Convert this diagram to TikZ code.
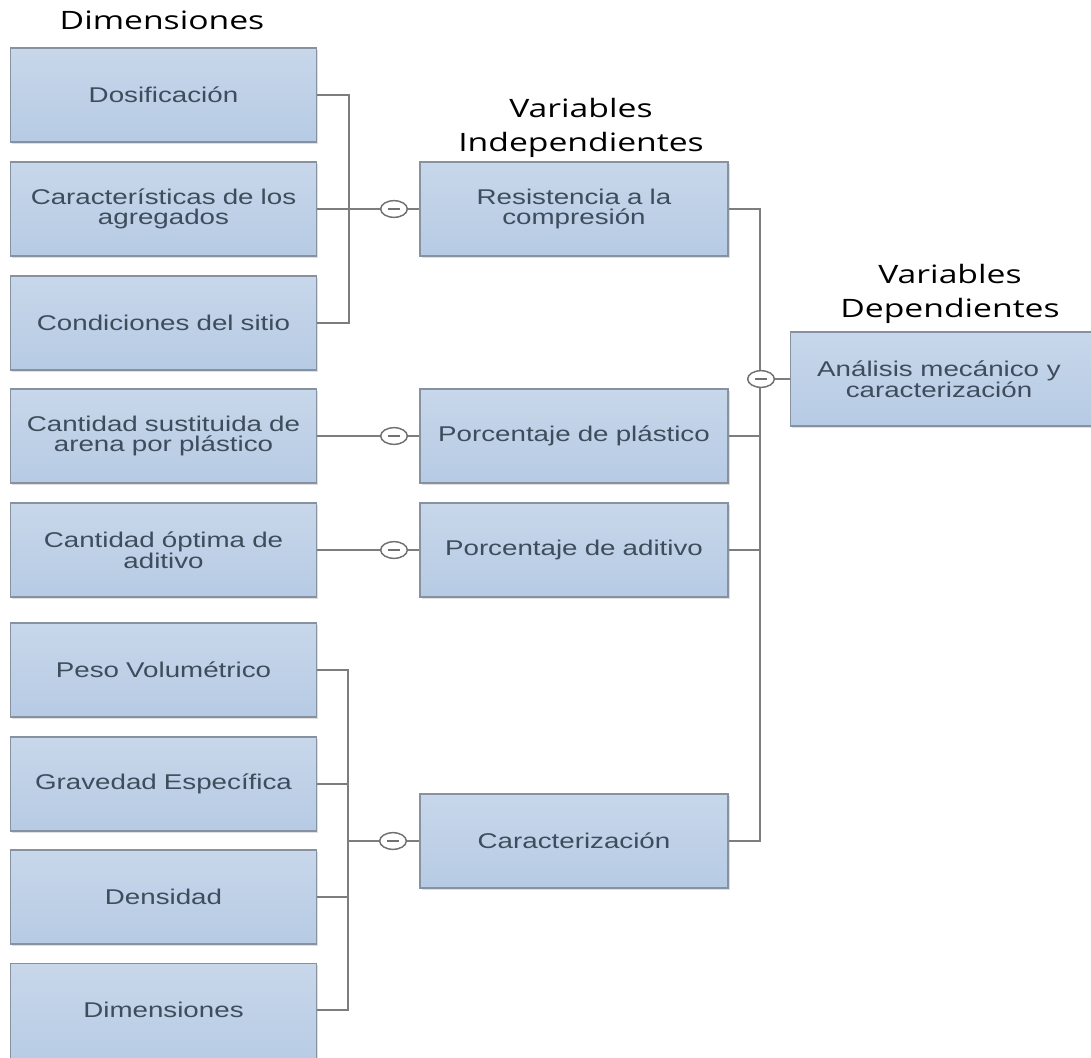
\documentclass[tikz,border=0pt]{standalone}
\usepackage{fontspec}
\newfontfamily\boxfont[FakeStretch=1.3]{Liberation Sans}
\newfontfamily\titlefont[FakeStretch=1.33]{Open Sans}
\usepackage{tikz}
\usetikzlibrary{shapes.geometric,shadows,positioning}
\definecolor{boxtop}{RGB}{200,215,234}
\definecolor{boxbot}{RGB}{182,203,228}
\definecolor{boxline}{RGB}{135,146,160}
\definecolor{boxtext}{RGB}{62,76,92}
\definecolor{linegray}{RGB}{125,125,125}

\begin{document}
\begin{tikzpicture}[x=0.75pt,y=-0.75pt,
    box/.style={draw=boxline, line width=0.9pt, top color=boxtop, bottom color=boxbot,
      drop shadow={shadow xshift=1.2pt, shadow yshift=-1.2pt, opacity=0.25},
      text=boxtext, font=\boxfont\fontsize{16}{14.5}\selectfont, align=center,
      minimum height=70.5pt, inner sep=2pt},
    lbox/.style={box, minimum width=229pt, text width=222pt},
    mbox/.style={box, minimum width=231pt, text width=224pt},
    boxlabel/.style={text=boxtext, font=\boxfont\fontsize{16}{14.5}\selectfont, align=center},
    title/.style={font=\titlefont\fontsize{19}{25}\selectfont, align=center},
    knot/.style={draw=linegray!90!black, line width=1.1pt, ellipse, fill=white,
      minimum width=20pt, minimum height=12.5pt, inner sep=0pt,
      path picture={\draw[line width=1.3pt] ([xshift=-4.5pt]path picture bounding box.center) -- ([xshift=4.5pt]path picture bounding box.center);}},
    conn/.style={draw=linegray, line width=1.3pt}]
  \useasboundingbox (0,0) rectangle (1091,1057);

  % Titles
  \node[title] (tdim) at (162,20) {Dimensiones};
  \node[title] (tind) at (581,128) {Variables\\Independientes};
  \node[title] (tdep) at (950,294) {Variables\\Dependientes};

  % Dimensions (left column)
  \node[lbox] (dosif)   at (163.5,95)   {Dosificación};
  \node[lbox] (agreg)   at (163.5,209)  {Características de los\\agregados};
  \node[lbox] (sitio)   at (163.5,323)  {Condiciones del sitio};
  \node[lbox] (arena)   at (163.5,436)  {Cantidad sustituida de\\arena por plástico};
  \node[lbox] (optima)  at (163.5,550)  {Cantidad óptima de\\aditivo};
  \node[lbox] (peso)    at (163.5,670)  {Peso Volumétrico};
  \node[lbox] (grav)    at (163.5,784)  {Gravedad Específica};
  \node[lbox] (dens)    at (163.5,897)  {Densidad};
  \node[lbox, minimum height=80pt, anchor=north] (dimen) at (163.5,963) {};
  \node[boxlabel] (dimtxt) at (163.5,1010) {Dimensiones};

  % Independent variables
  \node[mbox] (resis) at (574,209) {Resistencia a la\\compresión};
  \node[mbox] (plast) at (574,436) {Porcentaje de plástico};
  \node[mbox] (adit)  at (574,550) {Porcentaje de aditivo};
  \node[mbox] (carac) at (574,841) {Caracterización};

  % Dependent variable
  \node[box, minimum width=240pt, anchor=west] (anal) at (790,379) {};
  \node[boxlabel] (analtxt) at (939,379) {Análisis mecánico y\\caracterización};

  % Junction points
  \coordinate (j1) at (349,209);
  \coordinate (j2) at (348,841);
  \coordinate (j3) at (760,379);

  % Upper bracket
  \draw[conn] (dosif.east) -| (j1) |- (sitio.east);
  \node[knot] (k1) at (394,209) {};
  \draw[conn] (agreg.east) -- (k1.west);
  \draw[conn] (k1.east) -- (resis.west);

  % Single rows
  \node[knot] (k2) at (394,436) {};
  \draw[conn] (arena.east) -- (k2.west);
  \draw[conn] (k2.east) -- (plast.west);
  \node[knot] (k3) at (394,550) {};
  \draw[conn] (optima.east) -- (k3.west);
  \draw[conn] (k3.east) -- (adit.west);

  % Lower bracket
  \draw[conn] (peso.east) -| (j2) |- (dimtxt.east -| dimen.east);
  \draw[conn] (grav.east) -- (grav.east -| j2);
  \draw[conn] (dens.east) -- (dens.east -| j2);
  \node[knot] (k4) at (393,841) {};
  \draw[conn] (j2) -- (k4.west);
  \draw[conn] (k4.east) -- (carac.west);

  % Right bracket
  \draw[conn] (resis.east) -| (j3) |- (carac.east);
  \draw[conn] (plast.east) -- (plast.east -| j3);
  \draw[conn] (adit.east) -- (adit.east -| j3);
  \node[knot] (k5) at (761,379) {};
  \draw[conn] (k5.east) -- (anal.west);
\end{tikzpicture}
\end{document}
